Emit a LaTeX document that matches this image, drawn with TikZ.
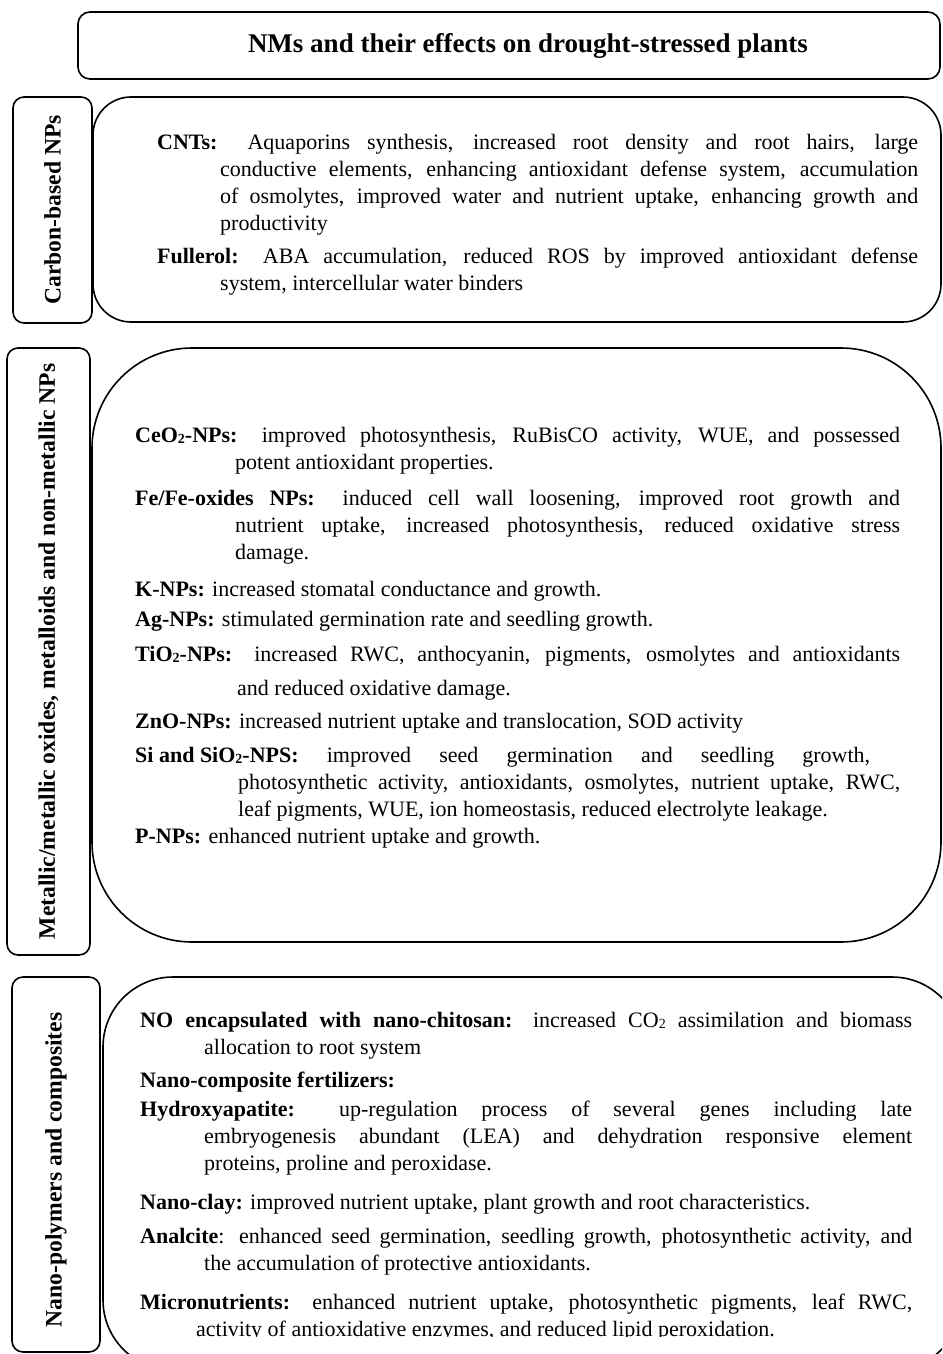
\documentclass[tikz,border=0pt]{standalone}
\usepackage{fontspec}
\setmainfont{Liberation Serif}

\newcommand{\lowsub}[1]{\raisebox{-1.5pt}{\fontsize{14}{14}\selectfont #1}}
\newcommand{\hangentry}[3]{\noindent\hangindent=#1\hangafter=1 \textbf{#2} #3\par}

\begin{document}
\begin{tikzpicture}[x=1pt, y=-1pt,
    frame/.style={draw, line width=1.6pt},
    sidebox/.style={frame, rounded corners=11pt, rotate=90, inner sep=0pt, font=\bfseries\fontsize{23.6}{28}\selectfont},
    entry/.style={anchor=north west, inner sep=0pt, align=justify, font=\fontsize{22}{27}\selectfont},
    carbonitem/.style={entry, text width=761pt},
    metalitem/.style={entry, text width=765pt},
    polyitem/.style={entry, text width=772pt}]
    \useasboundingbox (0,0) rectangle (942,1354);
    \clip (0,0) rectangle (942,1354);
    \node[frame, rounded corners=12pt, minimum width=862pt, minimum height=67pt] (titlebox) at (509,45.5) {};
    \node[font=\bfseries\fontsize{27}{32}\selectfont] (title) at (528,45.5) {NMs and their effects on drought-stressed plants};
    \foreach \nm/\cx/\cy/\boxlen/\boxdep/\txt in {carbon/52.5/210/226/79/{Carbon-based NPs}, metal/48.5/651.5/607/83/{Metallic/metallic oxides, metalloids and non-metallic NPs}, polymer/56/1164.5/375/88/{}}
        \node[sidebox, minimum width=\boxlen pt, minimum height=\boxdep pt] (\nm) at (\cx,\cy) {\txt};
    \node[rotate=90, inner sep=0pt, font=\bfseries\fontsize{23.6}{28}\selectfont] (polymertext) at (56,1170) {Nano-polymers and composites};
    \draw[frame, rounded corners=38pt] (93,97) rectangle (941,322);
    \draw[frame, rounded corners=100pt] (92,348) rectangle (941,942);
    \draw[frame, rounded corners=70pt] (103,977) rectangle (962,1370);
    \node[carbonitem] (cnts) at (157,134) {\hangentry{63pt}{CNTs:}{Aquaporins synthesis, increased root density and root hairs, large\linebreak conductive elements, enhancing antioxidant defense system, accumulation\linebreak of osmolytes, improved water and nutrient uptake, enhancing growth and\linebreak productivity}};
    \node[carbonitem] (fullerol) at (157,248) {\hangentry{63pt}{Fullerol:}{ABA accumulation, reduced ROS by improved antioxidant defense\linebreak system, intercellular water binders}};
    \node[metalitem] (ceo) at (135,427) {\hangentry{100pt}{CeO\lowsub{2}-NPs:}{improved photosynthesis, RuBisCO activity, WUE, and possessed\linebreak potent antioxidant properties.}};
    \node[metalitem] (feox) at (135,490) {\hangentry{100pt}{Fe/Fe-oxides NPs:}{induced cell wall loosening, improved root growth and\linebreak nutrient uptake, increased photosynthesis, reduced oxidative stress\linebreak damage.}};
    \node[metalitem] (knp) at (135,581) {\hangentry{100pt}{K-NPs:}{increased stomatal conductance and growth.}};
    \node[metalitem] (agnp) at (135,611) {\hangentry{100pt}{Ag-NPs:}{stimulated germination rate and seedling growth.}};
    \node[metalitem, font=\fontsize{22}{34}\selectfont] (tio) at (135,646) {\hangentry{102pt}{TiO\lowsub{2}-NPs:}{increased RWC, anthocyanin, pigments, osmolytes and antioxidants\linebreak and reduced oxidative damage.}};
    \node[metalitem] (zno) at (135,713) {\hangentry{100pt}{ZnO-NPs:}{increased nutrient uptake and translocation, SOD activity}};
    \node[metalitem] (sio) at (135,747) {\noindent\parshape 3 0pt 735pt 103pt 662pt 103pt 662pt \mbox{\textbf{Si and SiO\lowsub{2}-NPS:}} improved seed germination and seedling growth,\linebreak photosynthetic activity, antioxidants, osmolytes, nutrient uptake, RWC,\linebreak leaf pigments, WUE, ion homeostasis, reduced electrolyte leakage.\par};
    \node[metalitem] (pnp) at (135,828) {\hangentry{100pt}{P-NPs:}{enhanced nutrient uptake and growth.}};
    \node[polyitem] (nochit) at (140,1012) {\hangentry{64pt}{NO encapsulated with nano-chitosan:}{increased CO\lowsub{2} assimilation and biomass\linebreak allocation to root system}};
    \node[polyitem] (nanocomp) at (140,1072) {\textbf{Nano-composite fertilizers:}};
    \node[polyitem] (hydroxy) at (140,1101) {\hangentry{64pt}{Hydroxyapatite:}{up-regulation process of several genes including late\linebreak embryogenesis abundant (LEA) and dehydration responsive element\linebreak proteins, proline and peroxidase.}};
    \node[polyitem] (nanoclay) at (140,1194) {\hangentry{64pt}{Nano-clay:}{improved nutrient uptake, plant growth and root characteristics.}};
    \node[polyitem] (analcite) at (140,1228) {\noindent\hangindent=64pt\hangafter=1 \textbf{Analcite}: enhanced seed germination, seedling growth, photosynthetic activity, and\linebreak the accumulation of protective antioxidants.\par};
    \begin{scope}
        \clip (0,0) rectangle (942,1336);
        \node[polyitem] (micro) at (140,1294) {\hangentry{56pt}{Micronutrients:}{enhanced nutrient uptake, photosynthetic pigments, leaf RWC,\linebreak activity of antioxidative enzymes, and reduced lipid peroxidation.}};
    \end{scope}
\end{tikzpicture}
\end{document}
